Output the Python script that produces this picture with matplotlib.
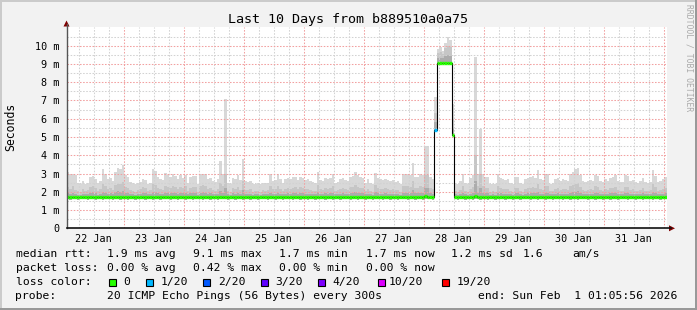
import numpy as np
import matplotlib
matplotlib.use('Agg')
import matplotlib.pyplot as plt
from matplotlib.patches import Rectangle, Polygon
from matplotlib.lines import Line2D

W, H = 697, 310
MONO = 'DejaVu Sans Mono'

# ---------------- data ----------------
title = 'Last 10 Days from b889510a0a75'
y_label = 'Seconds'
day_labels = ['22 Jan', '23 Jan', '24 Jan', '25 Jan', '26 Jan',
              '27 Jan', '28 Jan', '29 Jan', '30 Jan', '31 Jan']
y_tick_values = [0, 1, 2, 3, 4, 5, 6, 7, 8, 9, 10]
y_tick_labels = ['0', '1 m', '2 m', '3 m', '4 m', '5 m', '6 m', '7 m', '8 m', '9 m', '10 m']
first_midnight_h = -1.0989   # Jan 22 00:00 relative to start (Jan 22 01:05:56)

# hourly values, hundredths of a millisecond (240 hours)
smoke_max = [
    310, 300, 300, 290, 250, 240, 260, 245, 250, 280, 285, 270, 250, 260, 325, 300, 270, 275, 260, 310, 330, 325, 345, 290,
    280, 255, 250, 245, 250, 255, 270, 265, 245, 250, 325, 315, 280, 270, 265, 305, 290, 280, 295, 285, 270, 290, 275, 290,
    250, 280, 285, 285, 245, 300, 300, 295, 270, 275, 260, 255, 270, 370, 300, 710, 250, 245, 275, 270, 290, 265, 380, 260,
    255, 260, 245, 245, 250, 245, 250, 250, 250, 300, 260, 265, 295, 270, 250, 270, 275, 270, 280, 280, 265, 280, 275, 265,
    270, 260, 255, 250, 310, 265, 260, 275, 270, 275, 300, 250, 255, 270, 275, 265, 260, 280, 285, 310, 290, 280, 275, 250,
    270, 250, 245, 305, 275, 270, 265, 270, 265, 260, 265, 255, 260, 240, 300, 300, 295, 290, 360, 280, 280, 300, 290, 450,
    450, 280, 270, 720, 980, 990, 970, 1015, 1045, 1030, 680, 245, 245, 260, 300, 250, 245, 275, 290, 940, 300, 545, 300, 280,
    280, 245, 245, 245, 295, 275, 270, 265, 270, 250, 245, 280, 280, 250, 245, 270, 275, 280, 285, 275, 320, 270, 265, 300,
    300, 245, 250, 270, 275, 260, 270, 265, 260, 295, 310, 325, 330, 290, 260, 255, 260, 265, 260, 290, 285, 260, 255, 270,
    260, 275, 280, 290, 260, 255, 255, 290, 285, 260, 265, 255, 250, 260, 275, 255, 250, 255, 320, 285, 255, 260, 270, 280,
]
smoke_hi = [
    225, 215, 230, 210, 205, 200, 215, 205, 210, 225, 230, 220, 205, 215, 240, 230, 215, 220, 210, 235, 245, 240, 255, 225,
    220, 210, 205, 200, 210, 215, 225, 220, 205, 210, 240, 235, 220, 215, 210, 230, 225, 220, 230, 225, 215, 225, 220, 230,
    205, 220, 225, 225, 200, 230, 235, 230, 215, 220, 210, 205, 215, 250, 230, 300, 205, 200, 220, 215, 225, 210, 260, 210,
    210, 215, 200, 205, 205, 200, 210, 205, 210, 230, 215, 215, 230, 215, 205, 215, 220, 215, 220, 225, 215, 225, 220, 215,
    215, 210, 205, 205, 235, 215, 210, 220, 215, 220, 230, 205, 210, 215, 220, 215, 210, 225, 225, 235, 225, 220, 220, 205,
    215, 205, 200, 235, 220, 215, 215, 220, 215, 210, 215, 210, 210, 200, 230, 230, 230, 225, 260, 220, 220, 230, 225, 290,
    290, 220, 215, 630, 960, 965, 955, 985, 1000, 990, 600, 205, 200, 210, 230, 205, 200, 215, 225, 400, 230, 300, 230, 220,
    220, 200, 205, 200, 230, 220, 215, 215, 215, 205, 200, 220, 220, 205, 200, 215, 220, 220, 225, 220, 240, 215, 210, 230,
    230, 205, 205, 215, 220, 210, 215, 215, 210, 230, 235, 245, 250, 225, 210, 205, 210, 215, 210, 230, 225, 210, 205, 215,
    210, 220, 220, 225, 210, 205, 205, 225, 225, 210, 215, 205, 205, 210, 220, 205, 205, 210, 245, 225, 205, 210, 215, 220,
]
smoke_mid = [
    195, 190, 195, 188, 185, 185, 190, 186, 188, 195, 198, 192, 185, 190, 200, 195, 190, 192, 188, 198, 202, 200, 205, 195,
    192, 188, 186, 185, 188, 190, 195, 192, 186, 188, 200, 198, 192, 190, 188, 196, 194, 192, 196, 194, 190, 194, 192, 196,
    186, 192, 194, 194, 185, 196, 198, 196, 190, 192, 188, 186, 190, 205, 196, 220, 186, 185, 192, 190, 194, 188, 210, 188,
    188, 190, 185, 186, 186, 185, 188, 186, 188, 196, 190, 190, 196, 190, 186, 190, 192, 190, 192, 194, 190, 194, 192, 190,
    190, 188, 186, 186, 198, 190, 188, 192, 190, 192, 196, 186, 188, 190, 192, 190, 188, 194, 194, 198, 194, 192, 192, 186,
    190, 186, 185, 198, 192, 190, 190, 192, 190, 188, 190, 188, 188, 185, 196, 196, 196, 194, 210, 192, 192, 196, 194, 220,
    220, 192, 190, 580, 930, 935, 930, 945, 950, 945, 550, 186, 185, 188, 196, 186, 185, 190, 194, 260, 196, 220, 196, 192,
    192, 185, 186, 185, 196, 192, 190, 190, 190, 186, 185, 192, 192, 186, 185, 190, 192, 192, 194, 192, 200, 190, 188, 196,
    196, 186, 186, 190, 192, 188, 190, 190, 188, 196, 198, 200, 202, 194, 188, 186, 188, 190, 188, 196, 194, 188, 186, 190,
    188, 192, 192, 194, 188, 186, 186, 194, 194, 188, 190, 186, 186, 188, 192, 186, 186, 188, 200, 194, 186, 188, 190, 192,
]
smoke_lo = [
    158, 157, 158, 158, 157, 158, 159, 158, 157, 158, 158, 157, 158, 158, 157, 158, 159, 158, 157, 158, 158, 157, 158, 158,
    157, 158, 158, 157, 158, 159, 158, 157, 158, 158, 157, 158, 158, 157, 158, 159, 158, 157, 158, 158, 157, 158, 158, 157,
    158, 158, 157, 158, 159, 158, 157, 158, 158, 157, 158, 158, 157, 158, 159, 158, 157, 158, 158, 157, 158, 158, 157, 158,
    158, 157, 158, 158, 157, 158, 159, 158, 157, 158, 158, 157, 158, 158, 157, 158, 159, 158, 157, 158, 158, 157, 158, 158,
    157, 158, 158, 157, 158, 159, 158, 157, 158, 158, 157, 158, 158, 157, 158, 159, 158, 157, 158, 158, 157, 158, 158, 157,
    158, 158, 157, 158, 159, 158, 157, 158, 158, 157, 158, 158, 157, 158, 159, 158, 157, 158, 158, 157, 158, 158, 157, 158,
    158, 158, 157, 540, 905, 905, 905, 905, 905, 905, 510, 158, 157, 158, 158, 157, 158, 158, 157, 158, 158, 157, 158, 158,
    157, 158, 158, 157, 158, 159, 158, 157, 158, 158, 157, 158, 158, 157, 158, 159, 158, 157, 158, 158, 157, 158, 158, 157,
    158, 158, 157, 158, 159, 158, 157, 158, 158, 157, 158, 158, 157, 158, 159, 158, 157, 158, 158, 157, 158, 158, 157, 158,
    158, 157, 158, 158, 157, 158, 159, 158, 157, 158, 158, 157, 158, 158, 157, 158, 159, 158, 157, 158, 158, 157, 158, 158,
]
median_rtt = [
    172, 172, 173, 172, 171, 171, 172, 171, 171, 172, 172, 172, 171, 172, 173, 172, 172, 172, 171, 172, 173, 173, 174, 172,
    172, 171, 170, 170, 170, 171, 171, 171, 170, 170, 172, 172, 171, 170, 170, 171, 171, 171, 172, 171, 171, 171, 171, 172,
    170, 171, 171, 171, 170, 172, 172, 172, 171, 171, 170, 170, 171, 173, 172, 174, 170, 170, 171, 171, 172, 171, 173, 171,
    171, 171, 170, 170, 170, 170, 171, 170, 171, 172, 171, 171, 172, 171, 170, 171, 171, 171, 172, 172, 171, 172, 171, 171,
    171, 171, 170, 170, 172, 171, 171, 171, 171, 171, 172, 170, 171, 171, 171, 171, 171, 172, 172, 172, 172, 171, 171, 170,
    171, 170, 170, 172, 171, 171, 171, 171, 171, 170, 171, 170, 171, 170, 172, 172, 172, 171, 173, 171, 171, 172, 171, 175,
    174, 171, 171, 540, 907, 907, 907, 907, 907, 907, 510, 170, 170, 171, 172, 170, 170, 171, 172, 176, 172, 174, 172, 171,
    171, 170, 170, 170, 172, 171, 171, 171, 171, 170, 170, 171, 171, 170, 170, 171, 171, 171, 172, 171, 172, 171, 171, 172,
    172, 170, 170, 171, 171, 171, 171, 171, 171, 172, 172, 172, 173, 172, 171, 170, 171, 171, 171, 172, 172, 171, 170, 171,
    171, 171, 171, 172, 171, 170, 170, 172, 172, 171, 171, 170, 170, 171, 171, 170, 170, 171, 173, 172, 170, 171, 171, 172,
]
loss_hours = [147]
loss_counts = [1]

# legend content
rtt_stats = ['median rtt:', '1.9 ms avg', '9.1 ms max', '1.7 ms min', '1.7 ms now', '1.2 ms sd', '1.6', 'am/s']
loss_stats = ['packet loss:', '0.00 % avg', '0.42 % max', '0.00 % min', '0.00 % now']
loss_labels = ['0', '1/20', '2/20', '3/20', '4/20', '10/20', '19/20']
loss_levels = [0, 1, 2, 3, 4, 10, 19]
loss_colors = ['#26ff00', '#00b8ff', '#0059ff', '#5e00ff', '#7e00ff', '#dd00ff', '#ff0000']
probe_text = ['probe:', '20 ICMP Echo Pings (56 Bytes) every 300s', 'end: Sun Feb  1 01:05:56 2026']

# ---------------- layout helpers ----------------
def fx(x):
    return x / W

def fy(y):
    return 1 - y / H

fig = plt.figure(figsize=(W / 100, H / 100), dpi=100)
fig.patch.set_facecolor('#f2f2f2')

# frame shading
fig.patches.append(Rectangle((0, fy(2)), 1, 2 / H, transform=fig.transFigure, facecolor='#cbcbcb', edgecolor='none'))
fig.patches.append(Rectangle((0, 0), 2 / W, 1, transform=fig.transFigure, facecolor='#cbcbcb', edgecolor='none'))
fig.patches.append(Rectangle((0, 0), 1, 2 / H, transform=fig.transFigure, facecolor='#999999', edgecolor='none'))
fig.patches.append(Rectangle((1 - 2 / W, 0), 2 / W, 1, transform=fig.transFigure, facecolor='#999999', edgecolor='none'))

x0, x1 = 66.5, 666.5
y0, y1 = 228.3, 27.4
ax = fig.add_axes([fx(x0), fy(y0), (x1 - x0) / W, (y0 - y1) / H])
ax.set_facecolor('white')
for s in ax.spines.values():
    s.set_visible(False)
ax.set_xlim(0, 240)
ax.set_ylim(0, 11)

# ---------------- smoke ----------------
n = len(smoke_max)
edges = np.arange(n + 1)

def ext(a):
    a = np.asarray(a, dtype=float) / 100.0
    return np.append(a, a[-1])

mx, hi, mid, lo, med = ext(smoke_max), ext(smoke_hi), ext(smoke_mid), ext(smoke_lo), ext(median_rtt)
ax.fill_between(edges, lo, mx, step='post', color='#d8d8d8', linewidth=0, zorder=1)
ax.fill_between(edges, lo, hi, step='post', color='#c6c6c6', linewidth=0, zorder=1.1)
ax.fill_between(edges, lo, mid, step='post', color='#acacac', linewidth=0, zorder=1.2)

# ---------------- grid ----------------
gkw = dict(linewidth=0.75, linestyle=(0, (1.5, 1.5)), zorder=2)
minor_c = '#d2d2d2'
major_c = '#f2a0a0'
h = first_midnight_h
k = 0
while h <= 240:
    if h >= 0:
        ax.axvline(h, color=(major_c if k % 4 == 0 else minor_c), **gkw)
    h += 6
    k += 1
for yv in np.arange(0.5, 11.01, 0.5):
    if abs(yv - round(yv)) < 1e-6:
        if yv <= 10:
            ax.axhline(yv, color=major_c, **gkw)
    else:
        ax.axhline(yv, color=minor_c, **gkw)

# ---------------- median ----------------
ax.step(edges, med, where='post', color='black', linewidth=0.8, zorder=3)
seg_colors = [loss_colors[0]] * n
for hh, cnt in zip(loss_hours, loss_counts):
    seg_colors[hh] = loss_colors[loss_levels.index(cnt)]
ax.hlines(med[:-1], edges[:-1], edges[1:], colors=seg_colors, linewidth=2.4, capstyle='butt', zorder=4)

# ---------------- ticks ----------------
ax.set_yticks(y_tick_values)
ax.set_yticklabels(y_tick_labels, fontfamily=MONO, fontsize=7.3)
xt = [first_midnight_h + 12 + 24 * i for i in range(len(day_labels))]
ax.set_xticks(xt)
ax.set_xticklabels(day_labels, fontfamily=MONO, fontsize=7.3)
ax.tick_params(axis='y', length=0, pad=5)
ax.tick_params(axis='x', length=0, pad=4)

# ---------------- axes lines & arrows ----------------
fig.lines.append(Line2D([fx(x0), fx(x0)], [fy(y0), fy(24)], transform=fig.transFigure, color='#555555', linewidth=1.0))
fig.lines.append(Line2D([fx(x0), fx(671)], [fy(y0), fy(y0)], transform=fig.transFigure, color='#111111', linewidth=1.2))
fig.patches.append(Polygon([(fx(63.5), fy(26.5)), (fx(69.5), fy(26.5)), (fx(66.5), fy(20.5))],
                           closed=True, transform=fig.transFigure, facecolor='#800000', edgecolor='none'))
fig.patches.append(Polygon([(fx(669), fy(225.3)), (fx(669), fy(231.3)), (fx(675), fy(228.3))],
                           closed=True, transform=fig.transFigure, facecolor='#800000', edgecolor='none'))

# ---------------- texts ----------------
fig.text(fx(347.5), fy(20), title, ha='center', va='center', fontfamily=MONO, fontsize=9.6, color='black')
fig.text(fx(11), fy(126.5), y_label, rotation=90, ha='center', va='center', fontfamily=MONO, fontsize=8.3)
fig.text(fx(688.5), fy(4), 'RRDTOOL / TOBI OETIKER', rotation=270, ha='center', va='top',
         fontfamily=MONO, fontsize=5.8, color='#aaaaaa')

LF = 8.2
line1_x = [16, 107.3, 193.3, 279.3, 366, 451.7, 523.3, 572.7]
for s, xx in zip(rtt_stats, line1_x):
    fig.text(fx(xx - 0.5), fy(254.3), s, ha='left', va='center', fontfamily=MONO, fontsize=LF)
line2_x = [16, 107.3, 193.3, 279.3, 366]
for s, xx in zip(loss_stats, line2_x):
    fig.text(fx(xx - 0.5), fy(267.7), s, ha='left', va='center', fontfamily=MONO, fontsize=LF)
fig.text(fx(15.5), fy(282.3), 'loss color:', ha='left', va='center', fontfamily=MONO, fontsize=LF)
sq_x = [109.3, 146, 203.3, 261, 318.3, 378.3, 442]
lab_x = [123.3, 160.7, 218.3, 276, 333.3, 389.3, 457.3]
for lab, col, sx, lx in zip(loss_labels, loss_colors, sq_x, lab_x):
    fig.patches.append(Rectangle((fx(sx), fy(286)), 7 / W, 7 / H, transform=fig.transFigure,
                                 facecolor=col, edgecolor='black', linewidth=0.8))
    fig.text(fx(lx - 0.5), fy(282.3), lab, ha='left', va='center', fontfamily=MONO, fontsize=LF)
line4_x = [16, 107.3, 478.3]
for s, xx in zip(probe_text, line4_x):
    fig.text(fx(xx - 0.5), fy(296), s, ha='left', va='center', fontfamily=MONO, fontsize=LF)

fig.savefig('out.png', dpi=100, facecolor=fig.get_facecolor())
